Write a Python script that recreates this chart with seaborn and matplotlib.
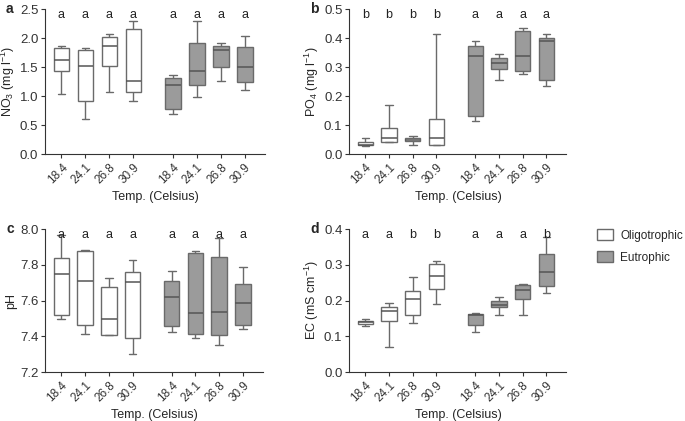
import pandas as pd
import numpy as np
import matplotlib
matplotlib.use('Agg')
import matplotlib.pyplot as plt
import matplotlib.transforms as mtransforms
from matplotlib.patches import Patch
import seaborn as sns

# Temperaturas e grupos
temps = ['18.4', '24.1', '26.8', '30.9']
grupos = ['Oligotrophic', 'Eutrophic']
posicoes = [0, 1, 2, 3, 4.65, 5.65, 6.65, 7.65]

# Estatísticas: [min, q1, mediana, q3, max] por caixa
# ordem: Oligotrophic 18.4, 24.1, 26.8, 30.9, Eutrophic 18.4, 24.1, 26.8, 30.9
no3 = [
    [1.04, 1.43, 1.63, 1.83, 1.87],
    [0.61, 0.91, 1.52, 1.80, 1.83],
    [1.08, 1.52, 1.87, 2.02, 2.07],
    [0.91, 1.08, 1.27, 2.16, 2.30],
    [0.70, 0.77, 1.19, 1.32, 1.37],
    [0.98, 1.20, 1.43, 1.91, 2.30],
    [1.27, 1.50, 1.80, 1.87, 1.91],
    [1.11, 1.24, 1.51, 1.85, 2.04],
]
po4 = [
    [0.029, 0.031, 0.033, 0.043, 0.056],
    [0.043, 0.043, 0.054, 0.091, 0.171],
    [0.033, 0.045, 0.048, 0.054, 0.062],
    [0.033, 0.033, 0.054, 0.122, 0.413],
    [0.115, 0.130, 0.340, 0.374, 0.390],
    [0.255, 0.295, 0.316, 0.332, 0.345],
    [0.278, 0.286, 0.340, 0.424, 0.437],
    [0.234, 0.255, 0.389, 0.400, 0.415],
]
ph = [
    [7.496, 7.520, 7.751, 7.838, 7.965],
    [7.416, 7.466, 7.710, 7.877, 7.885],
    [7.405, 7.410, 7.496, 7.678, 7.727],
    [7.300, 7.390, 7.704, 7.758, 7.827],
    [7.425, 7.460, 7.620, 7.708, 7.766],
    [7.393, 7.416, 7.531, 7.868, 7.879],
    [7.353, 7.405, 7.539, 7.842, 7.948],
    [7.440, 7.466, 7.589, 7.693, 7.790],
]
ec = [
    [0.128, 0.134, 0.139, 0.144, 0.148],
    [0.071, 0.142, 0.170, 0.182, 0.193],
    [0.137, 0.161, 0.205, 0.226, 0.267],
    [0.190, 0.233, 0.269, 0.303, 0.312],
    [0.113, 0.132, 0.160, 0.163, 0.166],
    [0.161, 0.181, 0.187, 0.199, 0.211],
    [0.159, 0.204, 0.231, 0.243, 0.246],
    [0.220, 0.241, 0.279, 0.331, 0.377],
]

# Letras de significância
letras_a = ['a', 'a', 'a', 'a', 'a', 'a', 'a', 'a']
letras_b = ['b', 'b', 'b', 'b', 'a', 'a', 'a', 'a']
letras_c = ['a', 'a', 'a', 'a', 'a', 'a', 'a', 'a']
letras_d = ['a', 'a', 'b', 'b', 'a', 'a', 'a', 'b']

sns.set_style('ticks')
plt.rcParams['font.family'] = ['Liberation Sans', 'DejaVu Sans']
plt.rcParams['mathtext.default'] = 'regular'
plt.rcParams['axes.edgecolor'] = '#333333'
plt.rcParams['xtick.color'] = '#333333'
plt.rcParams['ytick.color'] = '#333333'

cor_linha = '#6a6a6a'
paleta = {'Oligotrophic': 'white', 'Eutrophic': '#9b9b9b'}


def montar_df(stats):
    linhas = []
    for i, caixa in enumerate(stats):
        grupo = grupos[0] if i < 4 else grupos[1]
        for v in caixa:
            linhas.append({'pos': posicoes[i], 'grupo': grupo, 'valor': v})
    return pd.DataFrame(linhas)


def painel(ax, stats, letras, ylim, yticks, fmt, ylabel, rotulo):
    df = montar_df(stats)
    sns.boxplot(data=df, x='pos', y='valor', hue='grupo', palette=paleta,
                hue_order=grupos, native_scale=True, dodge=False, width=0.65,
                whis=(0, 100), linecolor=cor_linha, linewidth=1.0,
                medianprops=dict(color='#555555', linewidth=1.1),
                legend=False, ax=ax)
    ax.set_xlim(-0.68, 8.5)
    ax.set_ylim(*ylim)
    ax.set_yticks(yticks)
    ax.set_yticklabels([fmt.format(t) for t in yticks], fontsize=9.5)
    ax.set_xticks(posicoes)
    ax.set_xticklabels(temps * 2, rotation=45, ha='right', rotation_mode='anchor', fontsize=8.5)
    ax.tick_params(length=3, width=0.8, pad=2)
    ax.set_xlabel('Temp. (Celsius)', fontsize=9)
    ax.set_ylabel(ylabel, fontsize=9, labelpad=2)
    sns.despine(ax=ax)
    trans = mtransforms.blended_transform_factory(ax.transData, ax.transAxes)
    for p, l in zip(posicoes, letras):
        ax.text(p, 0.96, l, transform=trans, ha='center', va='center', fontsize=9, color='#222222')
    ax.text(-0.18, 1.0, rotulo, transform=ax.transAxes, fontsize=10, fontweight='bold', va='center')


fig = plt.figure(figsize=(6.85, 4.21), dpi=100)
ax_a = fig.add_axes([0.066, 0.634, 0.321, 0.344])
ax_b = fig.add_axes([0.510, 0.634, 0.317, 0.344])
ax_c = fig.add_axes([0.066, 0.116, 0.318, 0.340])
ax_d = fig.add_axes([0.510, 0.116, 0.317, 0.340])

painel(ax_a, no3, letras_a, (0, 2.5), np.arange(0, 2.51, 0.5), '{:.1f}', 'NO$_3$ (mg l$^{-1}$)', 'a')
painel(ax_b, po4, letras_b, (0, 0.5), np.arange(0, 0.51, 0.1), '{:.1f}', 'PO$_4$ (mg l$^{-1}$)', 'b')
painel(ax_c, ph, letras_c, (7.2, 8.0), np.arange(7.2, 8.01, 0.2), '{:.1f}', 'pH', 'c')
painel(ax_d, ec, letras_d, (0, 0.4), np.arange(0, 0.41, 0.1), '{:.1f}', 'EC (mS cm$^{-1}$)', 'd')

handles = [Patch(facecolor=paleta[g], edgecolor=cor_linha, linewidth=1.0, label=g) for g in grupos]
fig.legend(handles=handles, loc='upper left', bbox_to_anchor=(0.871, 0.455), frameon=False,
           fontsize=8.5, handlelength=1.4, handleheight=1.0, handletextpad=0.6,
           labelspacing=0.8, borderpad=0, borderaxespad=0)

fig.savefig('out.png', dpi=100, facecolor='white')
plt.close(fig)
